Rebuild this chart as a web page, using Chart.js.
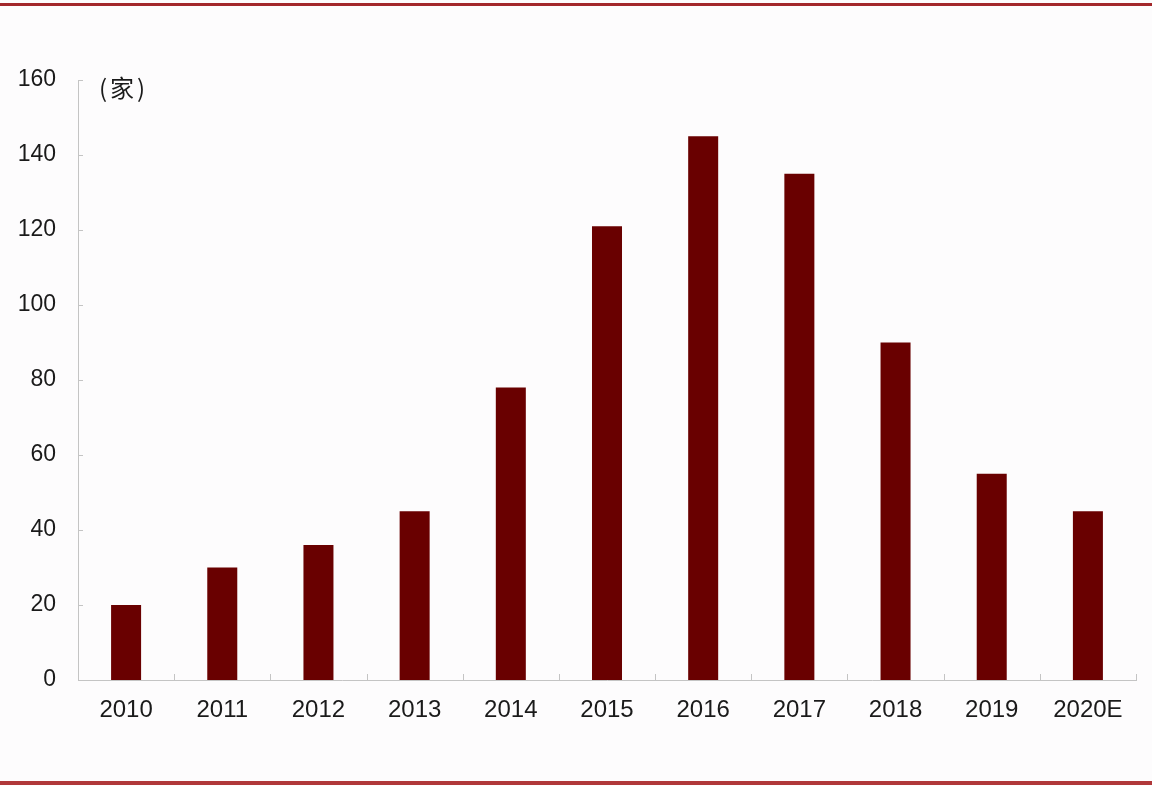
<!DOCTYPE html>
<html>
<head>
<meta charset="utf-8">
<script src="https://cdn.jsdelivr.net/npm/chart.js@4.4.0/dist/chart.umd.min.js"></script>
<style>
  html, body { margin: 0; padding: 0; background: #fdfcfd; }
  #wrap { width: 1152px; height: 786px; position: relative; }
</style>
</head>
<body>
<div id="wrap"><canvas id="c" width="1152" height="786"></canvas></div>
<script>
const categories = ['2010','2011','2012','2013','2014','2015','2016','2017','2018','2019','2020E'];
const counts = [20, 30, 36, 45, 78, 121, 145, 135, 90, 55, 45];
const yTicks = [0, 20, 40, 60, 80, 100, 120, 140, 160];
const unitLabel = '(家)';

const AXIS_COLOR = '#c4c4c4';
const BAR_COLOR = '#690000';

const decor = {
  id: 'decor',
  beforeDraw(chart) {
    const ctx = chart.ctx;
    ctx.save();
    ctx.fillStyle = '#fdfcfd';
    ctx.fillRect(0, 0, chart.width, chart.height);
    ctx.fillStyle = '#a3272b';
    ctx.fillRect(0, 3, chart.width, 3);
    ctx.fillStyle = '#b0383a';
    ctx.fillRect(0, 781, chart.width, 4);
    ctx.restore();
  },
  afterDatasetsDraw(chart) {
    const ctx = chart.ctx;
    const xs = chart.scales.x, ys = chart.scales.y;
    const area = chart.chartArea;
    ctx.save();
    ctx.strokeStyle = AXIS_COLOR;
    ctx.lineWidth = 1;
    ctx.beginPath();
    yTicks.forEach(v => {
      const y = Math.round(ys.getPixelForValue(v)) + 0.5;
      ctx.moveTo(area.left, y);
      ctx.lineTo(area.left + 5, y);
    });
    for (let i = 0; i <= categories.length; i++) {
      const x = Math.round(xs.getPixelForValue(i - 0.5)) + 0.5;
      ctx.moveTo(x, area.bottom);
      ctx.lineTo(x, area.bottom - 6);
    }
    ctx.stroke();
    ctx.fillStyle = '#1a1a1a';
    ctx.font = '24px "Noto Sans CJK SC"';
    ctx.letterSpacing = '3px';
    ctx.textBaseline = 'middle';
    ctx.textAlign = 'left';
    ctx.fillText(unitLabel, area.left + 21, area.top + 8);
    ctx.restore();
  }
};

new Chart(document.getElementById('c'), {
  type: 'bar',
  data: {
    labels: categories,
    datasets: [{
      data: counts,
      backgroundColor: BAR_COLOR,
      borderWidth: 0,
      barPercentage: 0.312,
      categoryPercentage: 1.0
    }]
  },
  options: {
    responsive: false,
    animation: false,
    devicePixelRatio: 1,
    layout: { padding: { top: 80, right: 16, left: 0, bottom: 0 } },
    plugins: { legend: { display: false }, tooltip: { enabled: false }, title: { display: false } },
    scales: {
      x: {
        offset: true,
        grid: { display: false },
        border: { display: true, color: AXIS_COLOR, width: 1 },
        ticks: {
          color: '#1a1a1a',
          font: { family: '"Liberation Sans", Arial, sans-serif', size: 24 },
          padding: 8,
          maxRotation: 0,
          autoSkip: false
        },
        afterFit(scale) { scale.height = 106; }
      },
      y: {
        min: 0,
        max: 160,
        grid: { display: false },
        border: { display: true, color: AXIS_COLOR, width: 1 },
        afterBuildTicks(scale) { scale.ticks = yTicks.map(v => ({ value: v })); },
        ticks: {
          color: '#1a1a1a',
          font: { family: '"Liberation Sans", Arial, sans-serif', size: 23 },
          padding: 14
        },
        afterFit(scale) { scale.width = 78; }
      }
    }
  },
  plugins: [decor]
});
</script>
</body>
</html>
